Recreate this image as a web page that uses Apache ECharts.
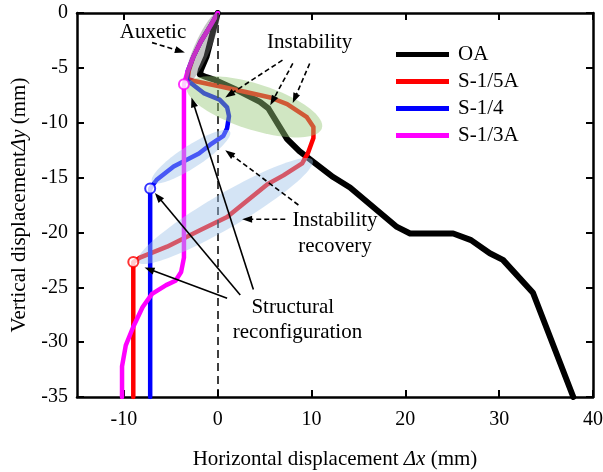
<!DOCTYPE html>
<html>
<head>
<meta charset="utf-8">
<script src="https://cdn.jsdelivr.net/npm/echarts@6/dist/echarts.min.js"></script>
<style>
  html, body { margin: 0; padding: 0; background: #fff; }
  #chart { width: 603px; height: 472px; }
</style>
</head>
<body>
<div id="chart"></div>
<script>
// Displacement paths (Δx, Δy in mm) for the four specimens
const seriesNames = ['OA', 'S-1/5A', 'S-1/4', 'S-1/3A'];

const oaPath = [
  [0, 0], [-0.6, -2.0], [-1.2, -4.0], [-1.8, -5.2], [-1.9, -5.6], [-1.2, -5.85],
  [-0.3, -6.1], [2.0, -7.0], [4.5, -8.1], [5.4, -8.7], [7.4, -11.5], [8.7, -12.6],
  [12.3, -14.95], [14.1, -15.9], [19.1, -19.5], [20.5, -20.1], [25.1, -20.1],
  [27.0, -20.7], [29.0, -21.9], [30.4, -22.5], [33.6, -25.5], [37.9, -35]
];
const s15Path = [
  [0, 0], [-0.8, -1.2], [-1.8, -2.6], [-2.6, -4.0], [-3.1, -5.3], [-3.2, -6.0],
  [-2.5, -6.2], [0.3, -6.7], [3.0, -7.2], [5.6, -7.7], [7.4, -8.3], [9.5, -9.5],
  [10.2, -10.4], [10.2, -11.4], [9.6, -12.8], [9.0, -13.7], [7.0, -14.8],
  [5.3, -15.6], [3.0, -17.2], [1.0, -18.6], [-1.9, -19.8], [-5.4, -21.3],
  [-8.3, -22.3], [-9.0, -22.7], [-9.0, -35]
];
const s14Path = [
  [0, 0], [-0.8, -1.2], [-1.8, -2.6], [-2.6, -4.0], [-3.2, -5.3], [-3.3, -6.1],
  [-2.7, -6.5], [-1.5, -7.3], [0.2, -7.9], [1.0, -8.6], [1.2, -9.4], [1.0, -10.5],
  [0.6, -11.2], [-0.8, -12.0], [-2.0, -12.8], [-4.7, -14.0], [-6.5, -15.2],
  [-7.2, -16.0], [-7.2, -35]
];
const s13Path = [
  [0, 0], [-0.8, -1.2], [-1.8, -2.6], [-2.6, -4.0], [-3.2, -5.3], [-3.6, -6.5],
  [-3.6, -22.3], [-3.9, -23.6], [-4.5, -24.4], [-5.5, -24.8], [-7.0, -25.6],
  [-8.0, -26.8], [-9.0, -28.6], [-9.8, -30.3], [-10.2, -32.2], [-10.2, -35]
];

// Onset of structural reconfiguration for each graded specimen
const reconfigS15 = [[-9.0, -22.7]];
const reconfigS14 = [[-7.2, -16.0]];
const reconfigS13 = [[-3.6, -6.5]];

const xTicks = [-10, 0, 10, 20, 30, 40];

// Highlighted deformation stages: major-axis end points in mm
const zoneEnds = [
  [0.0, 0.0, -3.3, -6.4],
  [-3.3, -6.6, 11.1, -10.5],
  [-7.0, -15.4, 1.3, -10.8],
  [-8.5, -22.7, 10.1, -13.4]
];
const zoneLook = [
  { half: 8, fill: 'rgba(120,120,120,0.42)' },
  { half: 23, fill: 'rgba(150,200,120,0.45)' },
  { half: 11, fill: 'rgba(160,195,232,0.45)' },
  { half: 17, fill: 'rgba(160,195,232,0.45)' }
];

// Callout texts and their anchor points (mm)
const noteTexts = ['Auxetic', 'Instability', 'Instability', 'recovery', 'Structural', 'reconfiguration'];
const noteAt = [[-6.9, -1.8], [9.8, -2.7], [12.5, -18.9], [12.5, -21.3], [8.0, -26.8], [8.5, -29.1]];

// Callout arrows: from (x1, y1) to (x2, y2), dashed flag
const arrowLines = [
  [-7.0, -2.7, -3.5, -3.6, 1],
  [6.9, -4.3, 0.8, -7.7, 1],
  [8.0, -4.6, 5.6, -8.4, 1],
  [9.8, -4.6, 8.0, -8.2, 1],
  [8.6, -17.5, 0.8, -12.5, 1],
  [7.2, -18.8, 2.6, -18.8, 1],
  [3.8, -25.2, -2.8, -7.7, 0],
  [2.4, -25.7, -6.7, -16.4, 0],
  [1.0, -26.0, -7.8, -23.2, 0]
];

const serif = 'Liberation Serif';

function renderZone(params, api) {
  const a = api.coord([api.value(0), api.value(1)]);
  const b = api.coord([api.value(2), api.value(3)]);
  const look = zoneLook[params.dataIndex];
  const cx = (a[0] + b[0]) / 2, cy = (a[1] + b[1]) / 2;
  const ang = Math.atan2(b[1] - a[1], b[0] - a[0]);
  const rx = Math.hypot(b[0] - a[0], b[1] - a[1]) / 2;
  const ry = look.half;
  const pts = [];
  for (let k = 0; k < 90; k++) {
    const t = (k / 90) * Math.PI * 2;
    const ex = rx * Math.cos(t), ey = ry * Math.sin(t);
    pts.push([cx + ex * Math.cos(ang) - ey * Math.sin(ang), cy + ex * Math.sin(ang) + ey * Math.cos(ang)]);
  }
  return { type: 'polygon', shape: { points: pts }, style: { fill: look.fill } };
}

function renderArrow(params, api) {
  const a = api.coord([api.value(0), api.value(1)]);
  const b = api.coord([api.value(2), api.value(3)]);
  const dashed = api.value(4) === 1;
  const ang = Math.atan2(b[1] - a[1], b[0] - a[0]);
  const L = 10, W = 3.6;
  const c = Math.cos(ang), s = Math.sin(ang);
  const base = [b[0] - L * c, b[1] - L * s];
  return {
    type: 'group',
    children: [
      {
        type: 'line',
        shape: { x1: a[0], y1: a[1], x2: base[0] + 2 * c, y2: base[1] + 2 * s },
        style: { stroke: '#000', lineWidth: 1.6, lineDash: dashed ? [5, 3] : null }
      },
      {
        type: 'polygon',
        shape: { points: [b, [base[0] + W * s, base[1] - W * c], [base[0] - W * s, base[1] + W * c]] },
        style: { fill: '#000' }
      }
    ]
  };
}

function renderNote(params, api) {
  const p = api.coord([api.value(0), api.value(1)]);
  return {
    type: 'text',
    x: p[0], y: p[1],
    style: {
      text: noteTexts[params.dataIndex],
      fill: '#000',
      fontFamily: serif,
      fontSize: 21,
      align: 'center',
      verticalAlign: 'middle'
    }
  };
}

function pathSeries(name, data, color, width, z) {
  return {
    name, type: 'line', data, z,
    symbol: 'none',
    lineStyle: { color, width, cap: 'round', join: 'round' },
    itemStyle: { color },
    animation: false
  };
}

function markerSeries(data, color) {
  return {
    type: 'scatter', data, z: 6,
    symbol: 'circle', symbolSize: 10,
    itemStyle: { color: '#fff', borderColor: color, borderWidth: 2 },
    animation: false, silent: true
  };
}

const frameLine = { onZero: false, lineStyle: { color: '#000', width: 2.5 } };
const tickStyle = { inside: true, length: 7, lineStyle: { color: '#000', width: 2 } };

const chart = echarts.init(document.getElementById('chart'), null, { renderer: 'canvas' });
chart.setOption({
  backgroundColor: '#fff',
  animation: false,
  textStyle: { fontFamily: serif },
  grid: { left: 77, right: 10, top: 13, bottom: 75, containLabel: false, outerBoundsMode: 'none' },
  legend: {
    data: seriesNames.map(n => ({ name: n, icon: 'rect' })),
    orient: 'vertical',
    left: 391, top: 36,
    itemWidth: 53, itemHeight: 5, itemGap: 0,
    textStyle: { fontFamily: serif, fontSize: 21, color: '#000', lineHeight: 27, padding: [0, 0, 0, 4] }
  },
  xAxis: [
    {
      type: 'value', min: -15, max: 40, position: 'bottom',
      axisLine: frameLine,
      axisTick: Object.assign({ customValues: xTicks }, tickStyle),
      axisLabel: { customValues: xTicks, fontFamily: serif, fontSize: 20, color: '#000', margin: 13 },
      splitLine: { show: false },
      name: 'Horizontal displacement {i|Δx} (mm)',
      nameLocation: 'middle', nameGap: 52,
      nameTextStyle: {
        fontFamily: serif, fontSize: 21, color: '#000',
        rich: { i: { fontFamily: serif, fontSize: 21, fontStyle: 'italic', color: '#000' } }
      }
    },
    {
      type: 'value', min: -15, max: 40, position: 'top',
      axisLine: frameLine,
      axisTick: Object.assign({ customValues: xTicks }, tickStyle),
      axisLabel: { show: false },
      splitLine: { show: false }
    }
  ],
  yAxis: [
    {
      type: 'value', min: -35, max: 0, interval: 5, position: 'left',
      axisLine: frameLine,
      axisTick: tickStyle,
      axisLabel: { fontFamily: serif, fontSize: 20, color: '#000', margin: 9 },
      splitLine: { show: false },
      name: 'Vertical displacement{i|Δy} (mm)',
      nameLocation: 'middle', nameGap: 42,
      nameTextStyle: {
        fontFamily: serif, fontSize: 21, color: '#000',
        rich: { i: { fontFamily: serif, fontSize: 21, fontStyle: 'italic', color: '#000' } }
      }
    },
    {
      type: 'value', min: -35, max: 0, interval: 5, position: 'right',
      axisLine: frameLine,
      axisTick: tickStyle,
      axisLabel: { show: false },
      splitLine: { show: false }
    }
  ],
  series: [
    Object.assign(pathSeries(seriesNames[0], oaPath, '#000000', 6, 2), {
      markLine: {
        silent: true, symbol: 'none', animation: false,
        label: { show: false },
        lineStyle: { color: '#000', width: 1.5, type: [8, 5] },
        data: [{ xAxis: 0 }]
      }
    }),
    pathSeries(seriesNames[1], s15Path, '#ff0000', 4.5, 3),
    pathSeries(seriesNames[2], s14Path, '#0000ff', 4.5, 3),
    pathSeries(seriesNames[3], s13Path, '#ff00ff', 4.5, 3),
    {
      type: 'custom', renderItem: renderZone, data: zoneEnds,
      encode: { x: [0, 2], y: [1, 3] }, z: 5, silent: true, animation: false
    },
    markerSeries(reconfigS15, '#ff0000'),
    markerSeries(reconfigS14, '#0000ff'),
    markerSeries(reconfigS13, '#ff00ff'),
    {
      type: 'custom', renderItem: renderArrow, data: arrowLines,
      encode: { x: [0, 2], y: [1, 3] }, z: 8, silent: true, animation: false
    },
    {
      type: 'custom', renderItem: renderNote, data: noteAt,
      encode: { x: 0, y: 1 }, z: 9, silent: true, animation: false
    }
  ]
});
</script>
</body>
</html>
